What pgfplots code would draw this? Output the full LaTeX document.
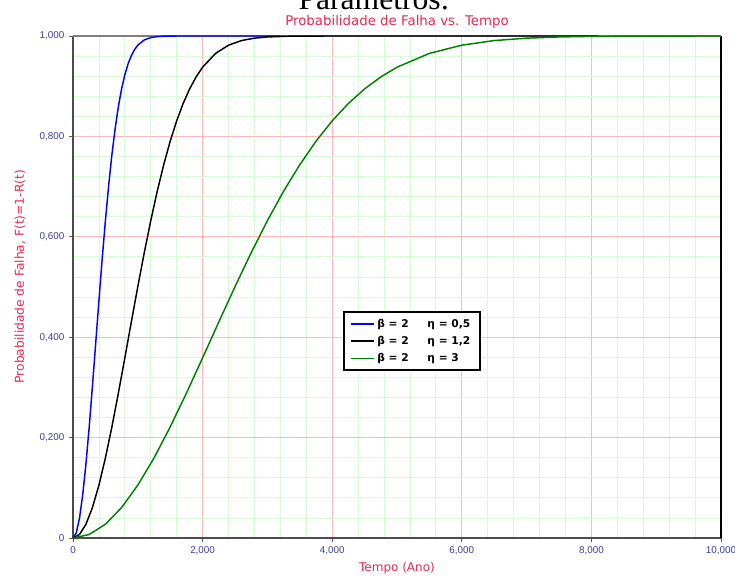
\documentclass[border=0pt]{standalone}
\usepackage{pgfplots}
\pgfplotsset{compat=1.18}
\usepackage{fontspec}
\setmainfont{DejaVu Sans}
\newfontfamily\serifT{Liberation Serif}
\newfontfamily\tickfont{Liberation Sans}
\definecolor{tickblue}{RGB}{60,60,160}
\definecolor{titlered}{RGB}{230,40,80}
\definecolor{majgrid}{RGB}{255,185,185}
\definecolor{mingrid}{RGB}{215,250,215}
\definecolor{cgreen}{RGB}{0,128,0}
\begin{document}
\begin{tikzpicture}
\begin{axis}[
  scale only axis, width=486pt, height=376.5pt,
  xmin=0, xmax=10, ymin=0, ymax=1,
  clip=false,
  xtick={0,2,4,6,8,10},
  xticklabels={0,{2,000},{4,000},{6,000},{8,000},{10,000}},
  ytick={0,0.2,0.4,0.6,0.8,1},
  yticklabels={0,{0,200},{0,400},{0,600},{0,800},{1,000}},
  minor tick num=4,
  grid=both,
  major grid style={majgrid, line width=0.6pt},
  minor grid style={mingrid, line width=0.6pt},
  tick style={gray!70!black, line width=0.6pt},
  major tick length=3pt, minor tick length=0pt,
  tick align=outside, tick pos=left,
  axis line style={draw=none},
  xticklabel style={font=\tickfont\fontsize{7.4}{8}\selectfont, text=tickblue},
  yticklabel style={font=\tickfont\fontsize{7.4}{8}\selectfont, text=tickblue},
  legend style={at={(0.4167,0.452)}, anchor=north west, draw=black, line width=1.5pt,
    font=\bfseries\fontsize{8}{10}\selectfont, inner xsep=5pt, inner ysep=3pt,
    row sep=1.2pt, cells={anchor=west}},
  legend image code/.code={\draw[#1, line width=1pt] (0pt,0pt) -- (17pt,0pt);},
]
\draw[gray!60!black, line width=0.9pt] (rel axis cs:0,0) -- (rel axis cs:0,1);
\draw[gray!60!black, line width=0.9pt] (rel axis cs:0,0) -- (rel axis cs:1,0);
\draw[black, line width=0.9pt] (rel axis cs:1,0) -- (rel axis cs:1,1);
\draw[gray, line width=0.9pt] (rel axis cs:0,1) -- (rel axis cs:1,1);

\addplot[draw=blue, color=blue, line width=1.1pt] coordinates {
(0,0) (0.05,0.00995) (0.1,0.0392) (0.15,0.0861) (0.2,0.1479) (0.25,0.2212)
(0.3,0.3023) (0.35,0.3874) (0.4,0.4727) (0.45,0.5551) (0.5,0.6321) (0.55,0.7018)
(0.6,0.7631) (0.65,0.8155) (0.7,0.8591) (0.75,0.8946) (0.8,0.9227) (0.85,0.9444)
(0.9,0.9608) (0.95,0.9729) (1.0,0.9817) (1.1,0.9921) (1.2,0.9968) (1.3,0.99884)
(1.4,0.99961) (1.6,0.99996) (3.2,1)};
\addlegendentry{β = 2\hspace{14pt}η = 0,5}

\addplot[draw=black, color=black, line width=1.1pt] coordinates {
(0,0) (0.1,0.00692) (0.2,0.0274) (0.3,0.0606) (0.4,0.1052) (0.5,0.1594)
(0.6,0.2212) (0.7,0.2884) (0.8,0.3588) (0.9,0.4302) (1.0,0.5007) (1.1,0.5684)
(1.2,0.6321) (1.3,0.6908) (1.4,0.7436) (1.5,0.7904) (1.6,0.8310) (1.7,0.8656)
(1.8,0.8946) (1.9,0.9185) (2.0,0.9378) (2.2,0.9653) (2.4,0.9817) (2.6,0.9909)
(2.8,0.99568) (3.0,0.99807) (3.3,0.99948) (3.6,0.99988) (4.0,0.99998) (8.1,1)};
\addlegendentry{β = 2\hspace{14pt}η = 1,2}

\addplot[draw=cgreen, color=cgreen, line width=1.1pt] coordinates {
(0,0) (0.25,0.00692) (0.5,0.0274) (0.75,0.0606) (1.0,0.1052) (1.25,0.1594)
(1.5,0.2212) (1.75,0.2884) (2.0,0.3588) (2.25,0.4302) (2.5,0.5007) (2.75,0.5684)
(3.0,0.6321) (3.25,0.6908) (3.5,0.7436) (3.75,0.7904) (4.0,0.8310) (4.25,0.8656)
(4.5,0.8946) (4.75,0.9185) (5.0,0.9378) (5.5,0.9653) (6.0,0.9817) (6.5,0.9909)
(7.0,0.99568) (7.5,0.99807) (8.0,0.99919) (8.5,0.99967) (9.0,0.99988) (10,0.99999)};
\addlegendentry{β = 2\hspace{14pt}η = 3}
\end{axis}
\node[font=\fontsize{10}{12}\selectfont, text=titlered] at (243pt,387.5pt) {Probabilidade de Falha vs. Tempo};
\node[font=\serifT\fontsize{23.7}{28}\selectfont, anchor=base] at (225.75pt,396.5pt) {Parâmetros:};
\node[rotate=90, font=\fontsize{9.2}{11}\selectfont, text=titlered] at (-39.75pt,196pt) {Probabilidade de Falha, F(t)=1-R(t)};
\node[font=\fontsize{9}{11}\selectfont, text=titlered] at (243pt,-22.5pt) {Tempo (Ano)};
\pgfresetboundingbox
\path[use as bounding box] (-54.75pt,-29.25pt) rectangle (496.5pt,403.5pt);
\end{tikzpicture}
\end{document}
